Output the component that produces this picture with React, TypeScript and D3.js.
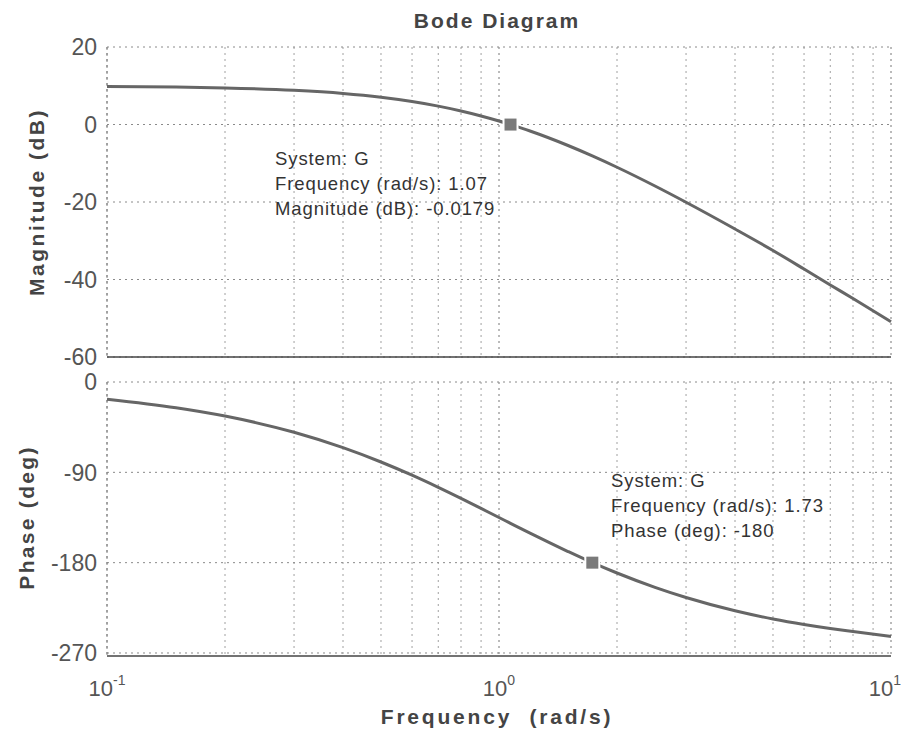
import React from 'react';
import * as d3 from 'd3';

// frequencies (rad/s) and readings
const freq = [0.1, 0.15, 0.2, 0.3, 0.4, 0.5, 0.6, 0.7, 0.8, 0.9, 1.0, 1.07, 1.2, 1.5, 1.73, 2, 2.5, 3, 4, 5, 6, 7, 8, 10];
const magDb = [9.81, 9.65, 9.43, 8.82, 8.01, 7.03, 5.93, 4.74, 3.49, 2.21, 0.91, -0.02, -1.68, -5.42, -8.1, -11.03, -15.87, -20.06, -26.97, -32.51, -37.3, -41.4, -44.9, -50.9];
const phaseDeg = [-17.1, -25.6, -33.9, -50.1, -65.4, -79.7, -92.9, -105.0, -116.0, -126.0, -135.0, -140.8, -150.6, -168.9, -180.0, -190.3, -204.6, -214.7, -227.9, -236.1, -241.6, -245.6, -248.6, -253.5];

const magTicks = [20, 0, -20, -40, -60];
const phaseTicks = [0, -90, -180, -270];
const decades = [-1, 0, 1];

const magTip = { f: 1.07, v: -0.0179, lines: ['System: G', 'Frequency (rad/s): 1.07', 'Magnitude (dB): -0.0179'] };
const phaseTip = { f: 1.73, v: -180, lines: ['System: G', 'Frequency (rad/s): 1.73', 'Phase (deg): -180'] };

const W = 908;
const H = 742;
const FONT = '"Liberation Sans", Arial, Helvetica, sans-serif';

const x = d3.scaleLog().domain([0.1, 10]).range([107, 891]);
const yMag = d3.scaleLinear().domain([20, -60]).range([47, 357]);
const yPh = d3.scaleLinear().domain([0, -273]).range([382, 656]);

// minor + major vertical grid positions
const vGrid: number[] = [];
for (let e = -1; e < 1; e++) {
  for (let k = 1; k < 10; k++) vGrid.push(k * Math.pow(10, e));
}
vGrid.push(10);

const gridStyle = { stroke: '#8a8a8a', strokeWidth: 1, strokeDasharray: '2,4' };

function Panel({ y, ticks, values, tip, tipX, tipY }: any) {
  const [y0, y1] = [y.range()[0], y.range()[1]];
  const line = d3.line<number>()
    .x((_, i) => x(freq[i]))
    .y(d => y(d))
    .curve(d3.curveMonotoneX);
  return (
    <g>
      {vGrid.map((f, i) => (
        <line key={'v' + i} x1={x(f)} x2={x(f)} y1={y0} y2={y1} style={{ ...gridStyle, stroke: f === 0.1 || f === 1 || f === 10 ? '#777' : '#a0a0a0' }} />
      ))}
      {ticks.map((t: number) => (
        <line key={'h' + t} x1={x(0.1)} x2={x(10)} y1={y(t)} y2={y(t)} style={gridStyle} />
      ))}
      <line x1={x(0.1)} x2={x(10)} y1={y1} y2={y1} stroke="#444" strokeWidth={1.3} />
      <line x1={x(0.1)} x2={x(0.1)} y1={y0} y2={y1} stroke="#888" strokeWidth={1} strokeDasharray="3,3" />
      {ticks.map((t: number) => (
        <text key={'l' + t} x={97} y={y(t)} dy="0.36em" textAnchor="end" fontSize={23} fill="#555" fontFamily={FONT}>
          {t}
        </text>
      ))}
      <path d={line(values) || ''} fill="none" stroke="#666" strokeWidth={3} />
      <rect x={x(tip.f) - 7} y={y(tip.v) - 7} width={14} height={14} fill="#7a7a7a" stroke="#fff" strokeWidth={2} />
      <text x={tipX} y={tipY} fontSize={18.5} letterSpacing={0.9} fill="#333" fontFamily={FONT}>
        {tip.lines.map((s: string, i: number) => (
          <tspan key={i} x={tipX} dy={i === 0 ? 0 : 25}>{s}</tspan>
        ))}
      </text>
    </g>
  );
}

export default function App() {
  return (
    <svg width={W} height={H} style={{ position: 'absolute', left: 0, top: 0, background: '#fff' }}>
      <text x={497} y={28} textAnchor="middle" fontSize={21} fontWeight="bold" letterSpacing={2} fill="#444" fontFamily={FONT}>
        Bode Diagram
      </text>

      <Panel y={yMag} ticks={magTicks} values={magDb} tip={magTip} tipX={275} tipY={165} />
      <Panel y={yPh} ticks={phaseTicks} values={phaseDeg} tip={phaseTip} tipX={611} tipY={487} />

      <text transform={`translate(44,${(yMag(20) + yMag(-60)) / 2}) rotate(-90)`} textAnchor="middle" fontSize={21} fontWeight="bold" letterSpacing={2.5} fill="#444" fontFamily={FONT}>
        Magnitude (dB)
      </text>
      <text transform={`translate(34,${(yPh(0) + yPh(-270)) / 2}) rotate(-90)`} textAnchor="middle" fontSize={21} fontWeight="bold" letterSpacing={2.3} fill="#444" fontFamily={FONT}>
        Phase (deg)
      </text>

      {decades.map(e => (
        <text key={e} x={e === 1 ? x(Math.pow(10, e)) - 6 : x(Math.pow(10, e))} y={696} textAnchor="middle" fontSize={22} fill="#555" fontFamily={FONT}>
          10
          <tspan dy={-11} fontSize={14}>{e}</tspan>
        </text>
      ))}

      <text x={497} y={724} textAnchor="middle" fontSize={21} fontWeight="bold" letterSpacing={2.8} fill="#444" fontFamily={FONT} xmlSpace="preserve">
        Frequency  (rad/s)
      </text>
    </svg>
  );
}
